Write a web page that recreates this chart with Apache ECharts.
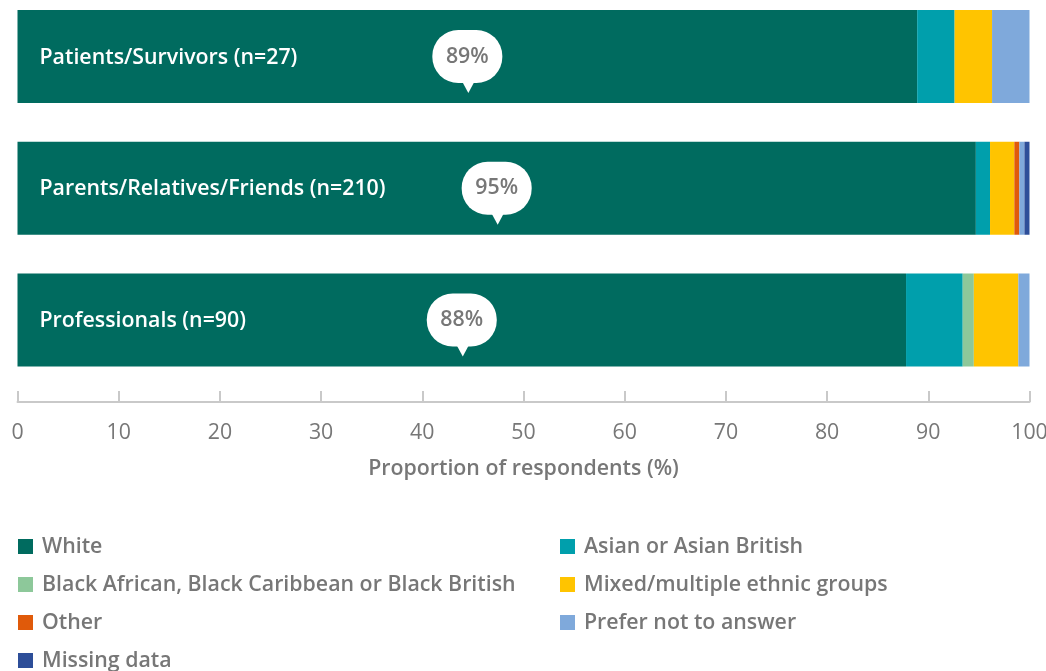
<!DOCTYPE html>
<html>
<head>
<meta charset="utf-8">
<script src="https://cdn.jsdelivr.net/npm/echarts@6/dist/echarts.min.js"></script>
<style>
  html, body { margin: 0; padding: 0; background: #fff; }
  #chart { width: 1046px; height: 671px; }
</style>
</head>
<body>
<div id="chart"></div>
<script>
const categories = ["Patients/Survivors (n=27)", "Parents/Relatives/Friends (n=210)", "Professionals (n=90)"];
const white = [88.9, 94.7, 87.8];
const asian = [3.7, 1.4, 5.6];
const black = [0, 0, 1.1];
const mixed = [3.7, 2.4, 4.4];
const other = [0, 0.5, 0];
const prefer = [3.7, 0.5, 1.1];
const missing = [0, 0.5, 0];
const xTicks = [0, 10, 20, 30, 40, 50, 60, 70, 80, 90, 100];

const font = "'Open Sans', sans-serif";
const grey = "#777";
const fs = 21.33;

const groups = [
  { name: "White", data: white, color: "#006b5f" },
  { name: "Asian or Asian British", data: asian, color: "#009fac" },
  { name: "Black African, Black Caribbean or Black British", data: black, color: "#8dc89a" },
  { name: "Mixed/multiple ethnic groups", data: mixed, color: "#ffc400" },
  { name: "Other", data: other, color: "#e05a0a" },
  { name: "Prefer not to answer", data: prefer, color: "#7fa9db" },
  { name: "Missing data", data: missing, color: "#2d4e99" },
];

const barSeries = groups.map((g, i) => ({
  name: g.name,
  type: "bar",
  stack: "total",
  barWidth: 93,
  data: g.data,
  itemStyle: { color: g.color },
  label: i === 0 ? {
    show: true,
    position: "insideLeft",
    distance: 22,
    offset: [0, 1],
    formatter: "{b}",
    color: "#fff",
    fontFamily: font,
    fontSize: fs,
    fontWeight: 600,
  } : { show: false },
  emphasis: { disabled: true },
}));

// speech bubble sitting at the middle of the white segment
const bubbleData = categories.map((c, i) => [white[i] / 2, c, Math.round(white[i])]);

const chart = echarts.init(document.getElementById("chart"));
const option = {
  animation: false,
  textStyle: { fontFamily: font },
  grid: { left: 17.5, right: 16.5, top: 56.5, height: 263.5, outerBoundsMode: "none", containLabel: false },
  legend: [
    {
      data: ["White", "Black African, Black Caribbean or Black British", "Other", "Missing data"],
      left: 18, top: 536,
    },
    {
      data: ["Asian or Asian British", "Mixed/multiple ethnic groups", "Prefer not to answer"],
      left: 560, top: 536,
    },
  ].map(l => Object.assign(l, {
    orient: "vertical",
    padding: 0,
    height: 135,
    icon: "rect",
    itemWidth: 15,
    itemHeight: 15,
    itemGap: 17,
    selectedMode: false,
    textStyle: { color: grey, fontSize: fs, fontWeight: 600, lineHeight: 21, padding: [0, 0, 0, 4], fontFamily: font },
  })),
  xAxis: {
    type: "value",
    min: 0,
    max: 100,
    interval: 10,
    offset: 82,
    name: "Proportion of respondents (%)",
    nameLocation: "middle",
    nameGap: 56,
    nameTextStyle: { color: grey, fontSize: fs, fontWeight: 600, fontFamily: font },
    axisLine: { show: true, lineStyle: { color: "#c9c9c9", width: 2 } },
    axisTick: { show: true, inside: true, length: 11, lineStyle: { color: "#c9c9c9", width: 2 } },
    axisLabel: {
      margin: 20, color: grey, fontSize: fs, fontFamily: font,
      formatter: v => xTicks.includes(v) ? String(v) : "",
    },
    splitLine: { show: false },
  },
  yAxis: {
    type: "category",
    data: categories,
    inverse: true,
    boundaryGap: false,
    axisLine: { show: false },
    axisTick: { show: false },
    axisLabel: { show: false },
    splitLine: { show: false },
  },
  series: barSeries.concat([
    {
      name: "bubbleTail",
      type: "scatter",
      symbol: "triangle",
      symbolRotate: 180,
      symbolSize: [14, 13],
      symbolOffset: [1, 30],
      itemStyle: { color: "#fff", opacity: 1 },
      data: bubbleData,
      z: 5,
      silent: true,
    },
    {
      name: "bubble",
      type: "scatter",
      symbolSize: 1,
      itemStyle: { color: "#fff", opacity: 1 },
      data: bubbleData,
      z: 6,
      silent: true,
      label: {
        show: true,
        position: "inside",
        offset: [0, 0],
        formatter: p => p.data[2] + "%",
        backgroundColor: "#fff",
        borderRadius: 26,
        padding: [15, 13],
        width: 44,
        lineHeight: 23,
        align: "center",
        color: grey,
        fontSize: fs,
        fontWeight: 600,
        fontFamily: font,
      },
    },
  ]),
};
option && chart.setOption(option);
</script>
</body>
</html>
